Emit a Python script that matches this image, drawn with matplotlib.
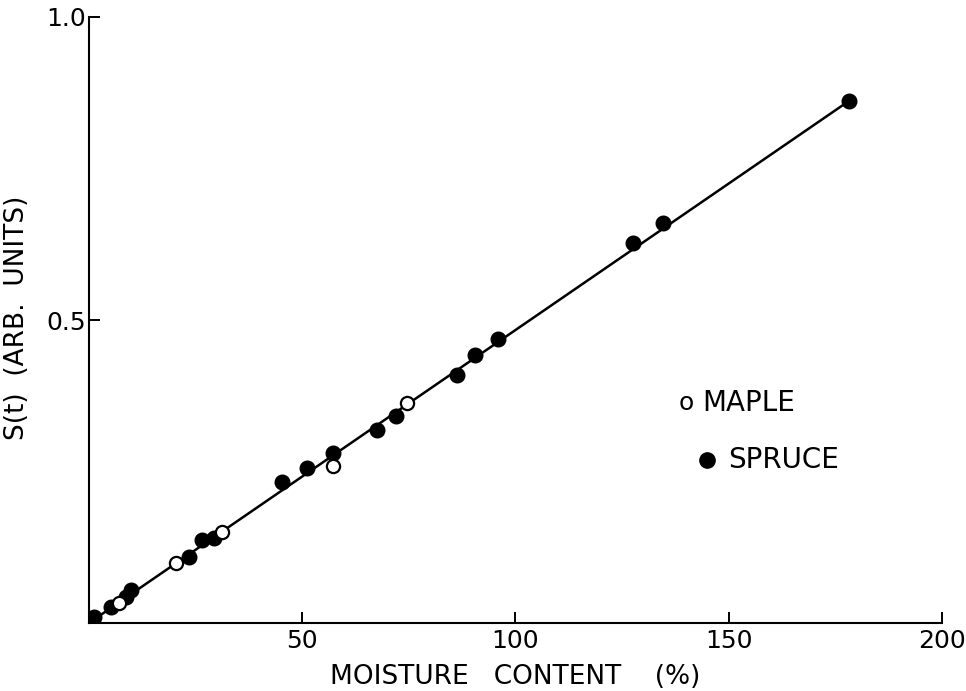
import matplotlib
matplotlib.use("Agg")
import matplotlib.pyplot as plt

# Spruce (filled circles)
spruce_x = [1.2, 5.2, 8.7, 9.9, 23.5, 26.4, 29.4, 45.2, 51.1, 57.2, 67.5, 72.0,
            86.4, 90.4, 95.8, 127.5, 134.6, 178.1]
spruce_y = [0.010, 0.026, 0.043, 0.054, 0.109, 0.137, 0.140, 0.233, 0.256, 0.281,
            0.318, 0.342, 0.409, 0.442, 0.469, 0.627, 0.660, 0.861]

# Maple (open circles)
maple_x = [7.1, 20.5, 31.3, 57.2, 74.6]
maple_y = [0.033, 0.099, 0.150, 0.259, 0.363]

# fitted line
fit_x = [0, 178.1]
fit_y = [0, 0.861]

x_ticks = [50, 100, 150, 200]
y_ticks = [0.5, 1.0]
y_ticklabels = ["0.5", "1.0"]

plt.rcParams['font.family'] = ['DejaVu Sans']

fig = plt.figure(figsize=(9.66, 6.91), dpi=100)
ax = fig.add_axes([0.0921, 0.0984, 0.883, 0.8770])

ax.plot(fit_x, fit_y, color='black', lw=1.8, zorder=2)
ax.plot(spruce_x, spruce_y, 'o', color='black', ms=10.5, zorder=3)
ax.plot(maple_x, maple_y, 'o', mfc='white', mec='black', mew=1.6, ms=9.5, zorder=4)

ax.set_xlim(0, 200)
ax.set_ylim(0, 1.0)
ax.set_xticks(x_ticks)
ax.set_yticks(y_ticks)
ax.set_yticklabels(y_ticklabels)
ax.tick_params(direction='in', length=8, width=1.4, labelsize=18, pad=4)
ax.tick_params(axis='y', pad=2)

for s in ['top', 'right']:
    ax.spines[s].set_visible(False)
for s in ['left', 'bottom']:
    ax.spines[s].set_linewidth(1.5)

ax.set_xlabel("MOISTURE   CONTENT    (%)", fontsize=19, labelpad=8)
ax.set_ylabel("S(t)  (ARB.  UNITS)", fontsize=19)
ax.yaxis.set_label_coords(-0.069, 0.503)

# legend drawn by hand
ax.text(0.700, 0.363, "o", transform=ax.transAxes, fontsize=18, va='center', ha='center')
ax.text(0.719, 0.363, "MAPLE", transform=ax.transAxes, fontsize=20, va='center')
ax.plot([0.7245], [0.269], 'o', color='black', ms=11, transform=ax.transAxes,
        clip_on=False)
ax.text(0.749, 0.269, "SPRUCE", transform=ax.transAxes, fontsize=20, va='center')

fig.savefig("out.png", dpi=100)
